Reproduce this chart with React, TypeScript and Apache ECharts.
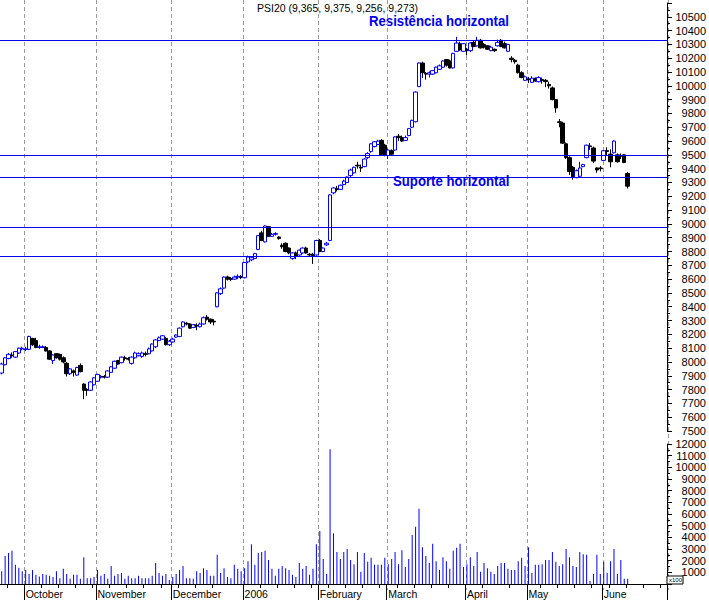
import React, { useEffect, useRef } from "react";
import * as echarts from "echarts";

// ---- Data ----
const opens = [
  7920, 7980, 8025, 8050, 8035, 8065, 8095, 8090, 8092, 8170,
  8155, 8105, 8105, 8105, 8080, 8010, 8060, 8055, 8030, 7990,
  7915, 7935, 7905, 7975, 7840, 7800, 7795, 7835, 7860, 7890,
  7895, 7890, 7925, 7955, 8010, 7995, 8030, 8025, 7990, 8030,
  8045, 8040, 8060, 8060, 8080, 8110, 8155, 8165, 8170, 8125,
  8145, 8180, 8185, 8255, 8280, 8275, 8250, 8265, 8255, 8275,
  8325, 8310, 8295, 8400, 8495, 8535, 8615, 8605, 8600, 8615,
  8620, 8610, 8725, 8740, 8750, 8815, 8935, 8870, 8980, 8910,
  8925, 8905, 8845, 8860, 8825, 8750, 8790, 8775, 8790, 8825,
  8780, 8780, 8775, 8880, 8800, 8848, 8880, 9225, 9255, 9250,
  9285, 9300, 9350, 9370, 9425, 9410, 9415, 9480, 9525, 9560,
  9575, 9605, 9570, 9495, 9530, 9535, 9635, 9625, 9605, 9640,
  9700, 9740, 9995, 10165, 10090, 10085, 10085, 10095, 10120, 10135,
  10190, 10180, 10130, 10250, 10305, 10250, 10265, 10255, 10315, 10290,
  10330, 10300, 10290, 10255, 10265, 10290, 10330, 10305, 10250, 10200,
  10185, 10150, 10095, 10040, 10050, 10025, 10055, 10030, 10045, 10040,
  10010, 9985, 9900, 9740, 9730, 9580, 9480, 9410, 9335, 9345,
  9415, 9480, 9565, 9550, 9405, 9405, 9460, 9530, 9505, 9515,
  9500, 9495, 9500, 9365,
];
const closes = [
  7985, 8030, 8055, 8045, 8075, 8100, 8100, 8095, 8185, 8125,
  8105, 8110, 8110, 8080, 8020, 8050, 8030, 8020, 8000, 7915,
  7950, 7925, 7960, 7930, 7795, 7795, 7855, 7885, 7910, 7895,
  7890, 7935, 7965, 8005, 7985, 8035, 8025, 8020, 8035, 8065,
  8060, 8065, 8055, 8095, 8130, 8160, 8175, 8190, 8125, 8150,
  8165, 8195, 8245, 8290, 8275, 8245, 8270, 8260, 8275, 8320,
  8310, 8290, 8290, 8500, 8530, 8615, 8600, 8598, 8615, 8620,
  8612, 8720, 8760, 8755, 8785, 8915, 8880, 8985, 8910, 8925,
  8930, 8895, 8835, 8800, 8790, 8790, 8765, 8810, 8825, 8790,
  8775, 8770, 8880, 8800, 8825, 8860, 9210, 9260, 9250, 9280,
  9310, 9340, 9390, 9410, 9420, 9405, 9470, 9510, 9580, 9595,
  9600, 9500, 9500, 9535, 9505, 9630, 9625, 9600, 9625, 9690,
  9750, 9955, 10165, 10095, 10085, 10095, 10110, 10135, 10145, 10180,
  10150, 10130, 10235, 10310, 10260, 10305, 10255, 10310, 10285, 10330,
  10275, 10280, 10265, 10280, 10255, 10315, 10285, 10275, 10300, 10190,
  10175, 10095, 10060, 10065, 10045, 10055, 10035, 10060, 10040, 10030,
  10000, 9900, 9840, 9735, 9585, 9480, 9380, 9340, 9385, 9405,
  9430, 9570, 9560, 9455, 9390, 9400, 9530, 9525, 9450, 9600,
  9450, 9490, 9445, 9273,
];
const lows = [
  7910, 7975, 8020, 8030, 8030, 8060, 8085, 8080, 8085, 8115,
  8100, 8095, 8100, 8075, 8015, 7985, 8025, 8010, 7990, 7895,
  7905, 7895, 7900, 7925, 7730, 7755, 7790, 7830, 7855, 7880,
  7880, 7885, 7920, 7950, 7980, 7990, 8010, 8010, 7980, 8025,
  8040, 8030, 8040, 8055, 8075, 8100, 8150, 8160, 8120, 8115,
  8140, 8175, 8180, 8250, 8265, 8240, 8245, 8230, 8250, 8270,
  8300, 8275, 8265, 8395, 8485, 8530, 8590, 8585, 8595, 8600,
  8600, 8605, 8715, 8730, 8745, 8810, 8875, 8865, 8905, 8905,
  8915, 8885, 8820, 8795, 8780, 8740, 8745, 8770, 8785, 8785,
  8765, 8710, 8770, 8795, 8795, 8840, 8875, 9215, 9235, 9245,
  9280, 9295, 9340, 9365, 9400, 9375, 9410, 9470, 9515, 9555,
  9570, 9495, 9490, 9470, 9500, 9530, 9600, 9595, 9600, 9635,
  9695, 9735, 9990, 10058, 10045, 10060, 10080, 10090, 10115, 10130,
  10140, 10125, 10125, 10245, 10255, 10245, 10220, 10245, 10280, 10285,
  10270, 10270, 10260, 10250, 10245, 10285, 10280, 10270, 10245, 10170,
  10160, 10090, 10055, 10035, 10020, 10020, 10030, 10025, 10015, 9990,
  9980, 9895, 9805, 9700, 9580, 9470, 9355, 9320, 9330, 9340,
  9410, 9475, 9535, 9440, 9370, 9380, 9455, 9500, 9410, 9510,
  9445, 9470, 9440, 9256,
];
const highs = [
  7995, 8035, 8065, 8070, 8080, 8105, 8110, 8110, 8190, 8175,
  8175, 8125, 8120, 8115, 8085, 8055, 8065, 8060, 8040, 8000,
  7955, 7945, 7965, 7990, 7845, 7810, 7860, 7890, 7915, 7905,
  7905, 7940, 7970, 8010, 8015, 8040, 8045, 8035, 8040, 8075,
  8070, 8075, 8075, 8105, 8135, 8165, 8185, 8195, 8180, 8160,
  8175, 8200, 8250, 8295, 8290, 8280, 8275, 8280, 8285, 8330,
  8340, 8315, 8310, 8505, 8540, 8620, 8625, 8615, 8625, 8635,
  8630, 8725, 8770, 8765, 8790, 8920, 8950, 8990, 8985, 8935,
  8940, 8910, 8860, 8865, 8830, 8795, 8800, 8815, 8830, 8835,
  8790, 8790, 8885, 8890, 8830, 8870, 9215, 9265, 9275, 9285,
  9320, 9345, 9400, 9415, 9450, 9430, 9475, 9520, 9585, 9600,
  9610, 9615, 9580, 9545, 9540, 9635, 9650, 9640, 9640, 9695,
  9755, 9960, 10170, 10175, 10100, 10105, 10115, 10140, 10155, 10185,
  10195, 10190, 10240, 10355, 10320, 10310, 10275, 10315, 10325, 10355,
  10340, 10310, 10295, 10290, 10270, 10335, 10340, 10320, 10305, 10215,
  10195, 10160, 10105, 10075, 10065, 10070, 10060, 10070, 10060, 10050,
  10030, 9995, 9905, 9760, 9740, 9590, 9490, 9420, 9395, 9450,
  9435, 9575, 9585, 9560, 9410, 9420, 9535, 9555, 9540, 9605,
  9510, 9510, 9505, 9375,
];
// volume in units of 100 000 (axis "x100" box)
const volumes = [
  1100, 2400, 2650, 2850, 1650, 1400, 1100, 1200, 850, 1200,
  800, 650, 850, 800, 700, 600, 1100, 500, 1300, 850,
  450, 800, 800, 450, 2300, 500, 500, 600, 1200, 700,
  850, 450, 1550, 700, 850, 950, 450, 700, 500, 500,
  700, 500, 500, 500, 700, 1800, 950, 700, 850, 350,
  600, 850, 1200, 1550, 500, 500, 450, 1100, 950, 1350,
  1200, 700, 700, 2500, 950, 1350, 600, 500, 1650, 1300,
  1100, 1350, 1950, 3400, 1650, 2650, 2750, 2850, 2050, 1300,
  700, 1300, 1550, 1350, 1200, 800, 600, 1800, 1300, 1550,
  800, 1300, 3400, 4550, 2150, 850, 11550, 4350, 2750, 2150,
  2750, 3000, 2050, 1700, 2750, 1050, 2650, 1900, 2250, 1650,
  1650, 1650, 2250, 1700, 2150, 2750, 1700, 2900, 1450, 2150,
  4200, 4900, 6450, 3150, 2400, 1800, 3450, 1950, 1200, 2300,
  1950, 1300, 2850, 3100, 3450, 1450, 1700, 2300, 1550, 2750,
  1050, 1800, 1350, 1050, 850, 1550, 1800, 1800, 1300, 1200,
  1200, 1950, 2250, 1550, 3150, 950, 1650, 1650, 1700, 2050,
  2050, 2750, 1900, 1550, 1700, 3000, 2300, 1550, 1450, 2750,
  2550, 2500, 250, 850, 2500, 850, 1900, 950, 1950, 3000,
  850, 2050, 450, 450,
];
const firstDay = [2005, 8, 22]; // 22 Sep 2005 (month is 0-based)
const slotCount = 195;
const holidays = ["2005-12-26", "2006-04-14", "2006-04-17", "2006-05-01"];
const monthNames: Record<string, string> = {
  "10": "October", "11": "November", "12": "December", "01": "2006",
  "02": "February", "03": "March", "04": "April", "05": "May", "06": "June",
};
const levelLines = [10333, 9500, 9339, 8977, 8767];
const priceMin = 7500;
const priceMax = 10600;
const volMax = 12000;
const titleText = "PSI20 (9,365, 9,375, 9,256, 9,273)";
const resistText = "Resistência horizontal";
const supportText = "Suporte horizontal";

function buildDates(): string[] {
  const out: string[] = [];
  const d = new Date(Date.UTC(firstDay[0], firstDay[1], firstDay[2]));
  while (out.length < slotCount) {
    const wd = d.getUTCDay();
    const s = d.toISOString().slice(0, 10);
    if (wd !== 0 && wd !== 6 && !holidays.includes(s)) out.push(s);
    d.setUTCDate(d.getUTCDate() + 1);
  }
  return out;
}

export default function App() {
  const ref = useRef<HTMLDivElement>(null);
  useEffect(() => {
    if (!ref.current) return;
    const chart = echarts.init(ref.current, undefined, { renderer: "svg" });
    const dates = buildDates();
    const monthStart = new Set<number>();
    dates.forEach((s, i) => {
      if (i > 0 && s.slice(5, 7) !== dates[i - 1].slice(5, 7)) monthStart.add(i);
    });
    const isMonday = (s: string) => new Date(s + "T00:00:00Z").getUTCDay() === 1;
    const candles = opens.map((o, i) => [o, closes[i], lows[i], highs[i]]);
    const font = "'Liberation Sans', Arial, sans-serif";

    const option: any = {
      animation: false,
      backgroundColor: "#ffffff",
      grid: [
        { left: 0, right: 41, top: 3, height: 428 },
        { left: 0, right: 41, top: 444, height: 140 },
        { left: 0, right: 41, top: 0, height: 590 },
      ],
      xAxis: [
        {
          type: "category", gridIndex: 0, data: dates, boundaryGap: true,
          axisLine: { show: false }, axisTick: { show: false }, axisLabel: { show: false },
          splitLine: { show: false },
        },
        {
          type: "category", gridIndex: 1, data: dates, boundaryGap: true, position: "bottom",
          axisLine: { show: true, lineStyle: { color: "#000", width: 1 } },
          axisTick: {
            show: true, length: 4, lineStyle: { color: "#000" },
            interval: (i: number, v: string) => isMonday(v),
          },
          axisLabel: { show: false },
          splitLine: { show: false },
        },
        {
          type: "category", gridIndex: 1, data: dates, boundaryGap: true, position: "bottom",
          axisLine: { show: false },
          axisTick: {
            show: true, length: 16, lineStyle: { color: "#000" },
            interval: (i: number) => monthStart.has(i),
          },
          axisLabel: {
            show: true, interval: (i: number) => monthStart.has(i),
            formatter: (v: string) => monthNames[v.slice(5, 7)] || "",
            align: "left", margin: 4, color: "#000", fontSize: 10.5, fontFamily: font,
          },
          splitLine: { show: false },
        },
        {
          type: "category", gridIndex: 2, data: dates, boundaryGap: true,
          axisLine: { show: false }, axisTick: { show: false }, axisLabel: { show: false },
          splitLine: {
            show: true, interval: (i: number) => monthStart.has(i),
            lineStyle: { color: "#9a9a9a", type: [4, 3], width: 1 },
          },
        },
      ],
      yAxis: [
        {
          type: "value", gridIndex: 0, position: "right", min: priceMin, max: priceMax, interval: 100,
          axisLine: { show: true, lineStyle: { color: "#000" } },
          axisTick: { show: true, length: 5, lineStyle: { color: "#000" } },
          minorTick: { show: true, splitNumber: 2, length: 3, lineStyle: { color: "#000" } },
          axisLabel: {
            show: true, align: "right", margin: 39, color: "#000", fontSize: 11, fontFamily: font,
            formatter: (v: number) => (v >= priceMax ? "" : String(v)),
          },
          splitLine: { show: false },
        },
        {
          type: "value", gridIndex: 1, position: "right", min: 0, max: volMax, interval: 1000,
          axisLine: { show: true, lineStyle: { color: "#000" } },
          axisTick: { show: true, length: 5, lineStyle: { color: "#000" } },
          minorTick: { show: true, splitNumber: 2, length: 3, lineStyle: { color: "#000" } },
          axisLabel: {
            show: true, align: "right", margin: 39, color: "#000", fontSize: 11, fontFamily: font,
            formatter: (v: number) => (v === 0 ? "" : String(v)),
          },
          splitLine: { show: false },
        },
        { type: "value", gridIndex: 2, min: 0, max: 1, show: false },
      ],
      series: [
        {
          type: "candlestick", xAxisIndex: 0, yAxisIndex: 0, data: candles, barWidth: 4,
          itemStyle: {
            color: "#ffffff", borderColor: "#0000ff",
            color0: "#000000", borderColor0: "#000000",
            borderColorDoji: "#000000", borderWidth: 1,
          },
          markLine: {
            silent: true, symbol: "none", animation: false,
            label: { show: false },
            lineStyle: { color: "#0000ee", type: "solid", width: 1 },
            data: levelLines.map((v) => ({ yAxis: v })),
          },
        },
        {
          type: "bar", xAxisIndex: 1, yAxisIndex: 1, data: volumes, barWidth: 1,
          itemStyle: { color: "#0000ff" },
        },
      ],
      graphic: [
        {
          type: "text", x: 257, y: 8,
          style: { text: titleText, fill: "#000", font: `10.5px ${font}`, verticalAlign: "middle" },
        },
        {
          type: "text", x: 369, y: 21, scaleX: 0.88,
          style: { text: resistText, fill: "#0000ee", font: `bold 15px ${font}`, verticalAlign: "middle" },
        },
        {
          type: "text", x: 393, y: 181, scaleX: 0.88,
          style: { text: supportText, fill: "#0000ee", font: `bold 15px ${font}`, verticalAlign: "middle" },
        },
        {
          type: "rect", x: 667, y: 576,
          shape: { width: 16, height: 8 },
          style: { fill: "#ffffff", stroke: "#000", lineWidth: 1 },
          z: 100,
        },
        {
          type: "text", x: 669, y: 580,
          style: { text: "x100", fill: "#000", font: `6px ${font}`, verticalAlign: "middle" },
          z: 101,
        },
      ],
    };
    chart.setOption(option);
    return () => chart.dispose();
  }, []);
  return (
    <div
      ref={ref}
      style={{ position: "absolute", left: 0, top: 0, width: 709, height: 600 }}
    />
  );
}
